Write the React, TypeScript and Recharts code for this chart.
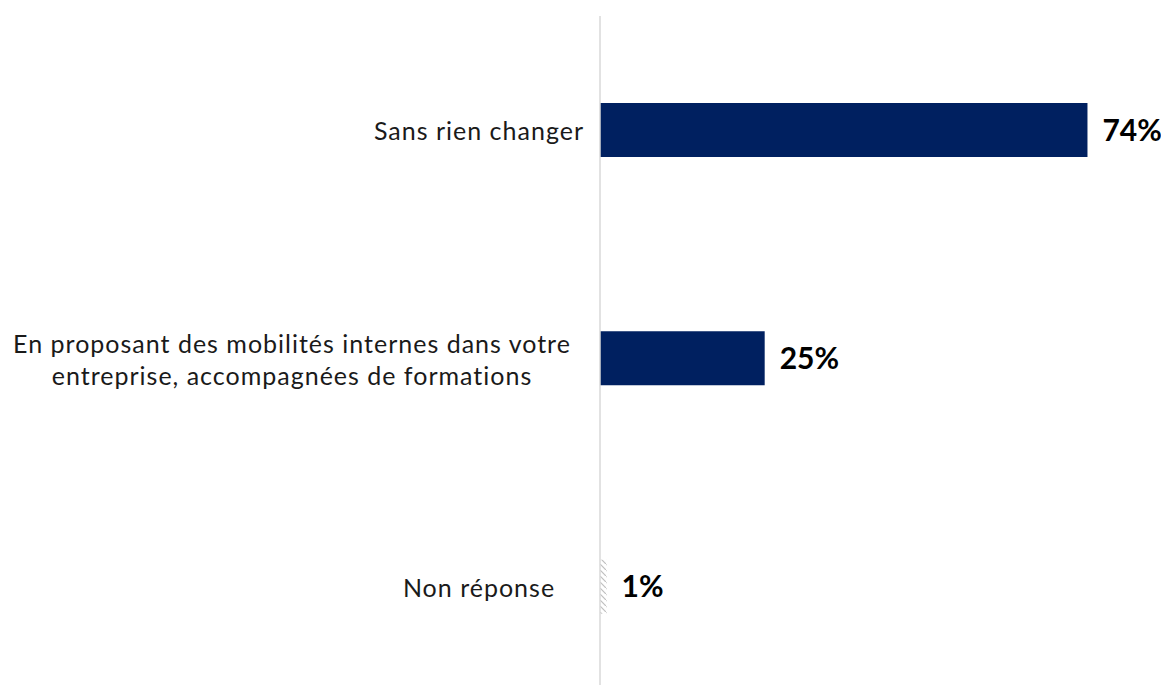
import { BarChart, Bar, XAxis, YAxis, Cell, LabelList } from 'recharts';

const categories = [
  'Sans rien changer',
  'En proposant des mobilités internes dans votre\nentreprise, accompagnées de formations',
  'Non réponse',
];
const values = [74, 25, 1];
const fills = ['#002060', '#002060', 'url(#hatch)'];

const data = categories.map((name, i) => ({ name, value: values[i] }));

const FONT = 'Lato, "Noto Sans", sans-serif';

function CategoryTick(props: any) {
  const { x, y, payload } = props;
  const lines: string[] = String(payload.value).split('\n');
  const cx = lines.length === 1 ? x - 113 : x - 300;
  const lh = 32;
  return (
    <text x={cx} y={y} textAnchor="middle" fontSize={25} letterSpacing={1} fill="#1a1a1a" fontFamily={FONT}>
      {lines.map((l, i) => (
        <tspan key={i} x={cx} y={y + (i - (lines.length - 1) / 2) * lh} dominantBaseline="central">
          {l}
        </tspan>
      ))}
    </text>
  );
}

export default function App() {
  return (
    <div style={{ margin: -8, width: 1169, height: 693, overflow: 'hidden', background: '#fff' }}>
      <BarChart
        width={1169}
        height={710}
        data={data}
        layout="vertical"
        margin={{ top: 16, right: 42, bottom: 9, left: 0 }}
      >
        <defs>
          <pattern id="hatch" patternUnits="userSpaceOnUse" width="6" height="6">
            <rect width="6" height="6" fill="#fff" />
            <path d="M0,0 L6,6" stroke="#bfbfbf" strokeWidth={1.2} />
          </pattern>
        </defs>
        <XAxis type="number" domain={[0, 80]} hide />
        <YAxis
          type="category"
          dataKey="name"
          width={600}
          axisLine={{ stroke: '#d9d9d9', strokeWidth: 1.5 }}
          tickLine={false}
          tick={<CategoryTick />}
          interval={0}
        />
        <Bar dataKey="value" barSize={54} isAnimationActive={false}>
          {data.map((d, i) => (
            <Cell key={d.name} fill={fills[i]} />
          ))}
          <LabelList
            dataKey="value"
            position="right"
            offset={15}
            formatter={(v: any) => `${v}%`}
            style={{ fontFamily: FONT, fontSize: 30, fontWeight: 700, fill: '#000' }}
          />
        </Bar>
      </BarChart>
    </div>
  );
}
